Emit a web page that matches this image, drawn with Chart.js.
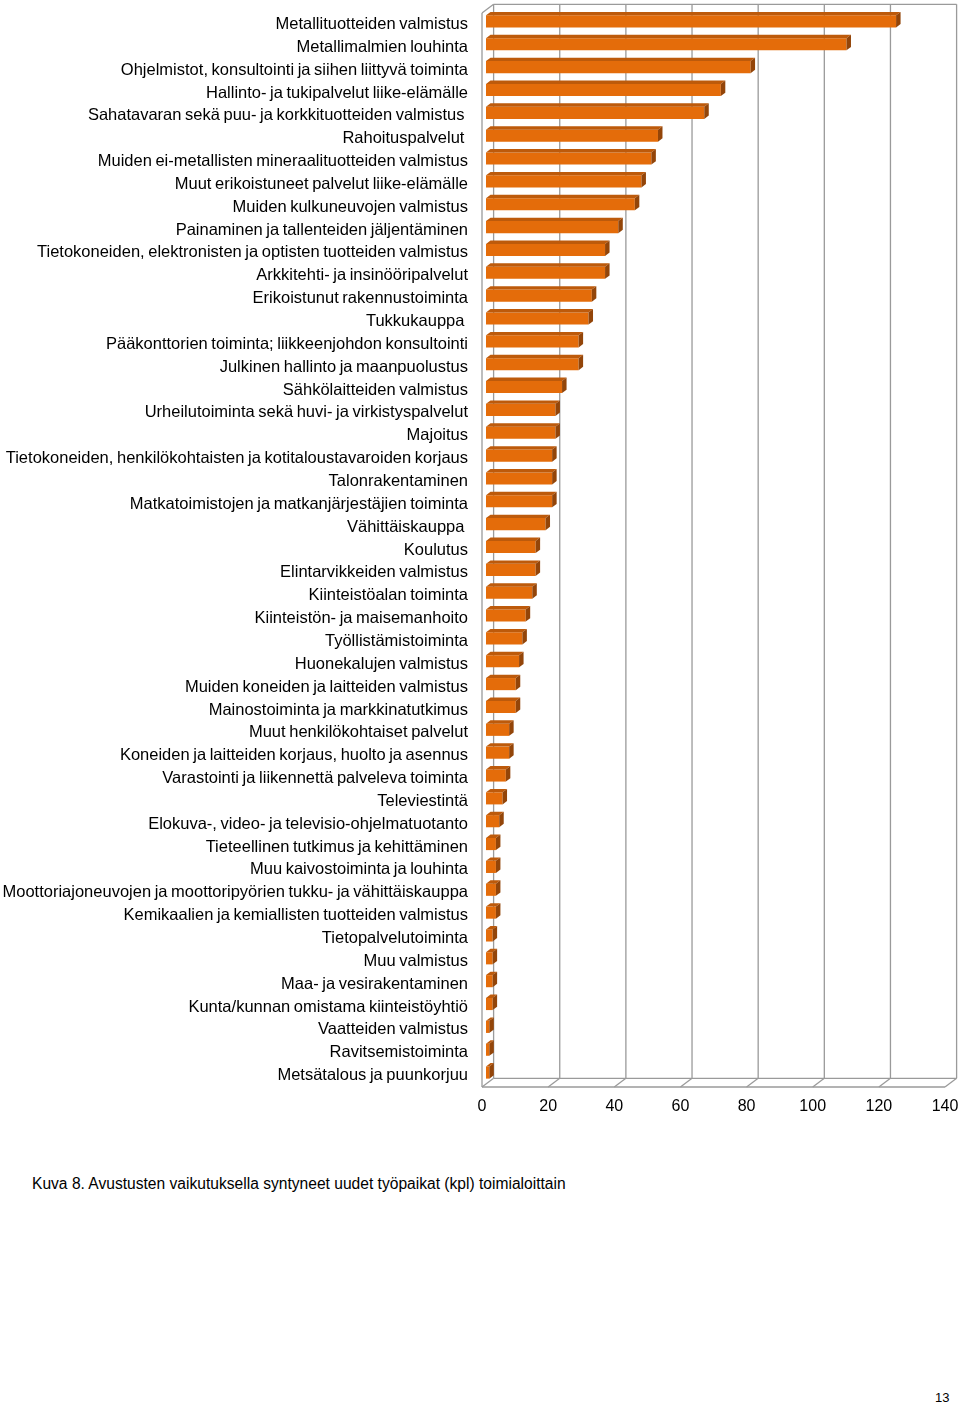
<!DOCTYPE html>
<html><head><meta charset="utf-8">
<script src="https://cdn.jsdelivr.net/npm/chart.js@4"></script>
<style>
html,body{margin:0;padding:0;background:#fff;}
body{width:960px;height:1403px;position:relative;overflow:hidden;font-family:"Liberation Sans",Arial,sans-serif;}
#wrap{position:absolute;left:0;top:0;width:960px;height:1130px;}
#cap{position:absolute;left:32px;top:1175px;font-size:15.6px;color:#000;white-space:nowrap;}
#pg{position:absolute;left:935px;top:1390px;font-size:13px;color:#000;}
</style></head><body>
<div id="wrap"><canvas id="c" width="960" height="1130"></canvas></div>
<div id="cap">Kuva 8. Avustusten vaikutuksella syntyneet uudet työpaikat (kpl) toimialoittain</div>
<div id="pg">13</div>
<script>
const categories = [
  "Metallituotteiden valmistus",
  "Metallimalmien louhinta",
  "Ohjelmistot, konsultointi ja siihen liittyvä toiminta",
  "Hallinto- ja tukipalvelut liike-elämälle",
  "Sahatavaran sekä puu- ja korkkituotteiden valmistus ",
  "Rahoituspalvelut ",
  "Muiden ei-metallisten mineraalituotteiden valmistus",
  "Muut erikoistuneet palvelut liike-elämälle",
  "Muiden kulkuneuvojen valmistus",
  "Painaminen ja tallenteiden jäljentäminen",
  "Tietokoneiden, elektronisten ja optisten tuotteiden valmistus",
  "Arkkitehti- ja insinööripalvelut",
  "Erikoistunut rakennustoiminta",
  "Tukkukauppa ",
  "Pääkonttorien toiminta; liikkeenjohdon konsultointi",
  "Julkinen hallinto ja maanpuolustus",
  "Sähkölaitteiden valmistus",
  "Urheilutoiminta sekä huvi- ja virkistyspalvelut",
  "Majoitus",
  "Tietokoneiden, henkilökohtaisten ja kotitaloustavaroiden korjaus",
  "Talonrakentaminen",
  "Matkatoimistojen ja matkanjärjestäjien toiminta",
  "Vähittäiskauppa ",
  "Koulutus",
  "Elintarvikkeiden valmistus",
  "Kiinteistöalan toiminta",
  "Kiinteistön- ja maisemanhoito",
  "Työllistämistoiminta",
  "Huonekalujen valmistus",
  "Muiden koneiden ja laitteiden valmistus",
  "Mainostoiminta ja markkinatutkimus",
  "Muut henkilökohtaiset palvelut",
  "Koneiden ja laitteiden korjaus, huolto ja asennus",
  "Varastointi ja liikennettä palveleva toiminta",
  "Televiestintä",
  "Elokuva-, video- ja televisio-ohjelmatuotanto",
  "Tieteellinen tutkimus ja kehittäminen",
  "Muu kaivostoiminta ja louhinta",
  "Moottoriajoneuvojen ja moottoripyörien tukku- ja vähittäiskauppa",
  "Kemikaalien ja kemiallisten tuotteiden valmistus",
  "Tietopalvelutoiminta",
  "Muu valmistus",
  "Maa- ja vesirakentaminen",
  "Kunta/kunnan omistama kiinteistöyhtiö",
  "Vaatteiden valmistus",
  "Ravitsemistoiminta",
  "Metsätalous ja puunkorjuu"
];
const newJobs = [
  124, 109, 80, 71, 66, 52, 50, 47, 45, 40,
  36, 36, 32, 31, 28, 28, 23, 21, 21, 20,
  20, 20, 18, 15, 15, 14, 12, 11, 10, 9,
  9, 7, 7, 6, 5, 4, 3, 3, 3, 3,
  2, 2, 2, 2, 1, 1, 1
];
const xTicks = [0, 20, 40, 60, 80, 100, 120, 140];

const FONT = '"Liberation Sans", Arial, sans-serif';
const FRONT_COLOR = '#E46C0A';
const TOP_COLOR = '#BD5A0B';
const SIDE_COLOR = '#934509';
const GRID_COLOR = '#9a9a9a';
const BACK = {dx: 11.6, dy: -8.7};
const BAR_SHIFT = {dx: 4, dy: -3};
const BAR_DEPTH = {dx: 4.5, dy: -3.4};

function line(ctx, x1, y1, x2, y2) {
  ctx.beginPath(); ctx.moveTo(x1, y1); ctx.lineTo(x2, y2); ctx.stroke();
}
function poly(ctx, pts) {
  ctx.beginPath(); ctx.moveTo(pts[0][0], pts[0][1]);
  for (let i = 1; i < pts.length; i++) ctx.lineTo(pts[i][0], pts[i][1]);
  ctx.closePath(); ctx.fill();
}

const box3d = {
  id: 'box3d',
  beforeDraw(chart) {
    if ('wordSpacing' in chart.ctx) chart.ctx.wordSpacing = '-1px';
  },
  beforeDatasetsDraw(chart) {
    const {ctx, chartArea: a, scales: {x}} = chart;
    ctx.save();
    ctx.strokeStyle = GRID_COLOR;
    ctx.lineWidth = 1.3;
    const bt = a.top + BACK.dy, bb = a.bottom + BACK.dy;
    const x0 = x.getPixelForValue(xTicks[0]);
    const xN = x.getPixelForValue(xTicks[xTicks.length - 1]);
    xTicks.forEach(v => {
      const px = x.getPixelForValue(v);
      line(ctx, px + BACK.dx, bt, px + BACK.dx, bb);
      line(ctx, px + BACK.dx, bb, px, a.bottom);
    });
    line(ctx, x0 + BACK.dx, bt, xN + BACK.dx, bt);
    line(ctx, x0 + BACK.dx, bb, xN + BACK.dx, bb);
    line(ctx, x0, a.bottom, xN, a.bottom);
    line(ctx, x0, a.top, x0, a.bottom);
    line(ctx, x0, a.top, x0 + BACK.dx, bt);
    ctx.restore();
    ctx.save();
    ctx.translate(BAR_SHIFT.dx, BAR_SHIFT.dy);
  },
  afterDatasetsDraw(chart) {
    const ctx = chart.ctx;
    const meta = chart.getDatasetMeta(0);
    meta.data.forEach(el => {
      const p = el.getProps(['x', 'y', 'base', 'height'], true);
      const t = p.y - p.height / 2, b = p.y + p.height / 2;
      const d = BAR_DEPTH;
      ctx.fillStyle = TOP_COLOR;
      poly(ctx, [[p.base, t], [p.x, t], [p.x + d.dx, t + d.dy], [p.base + d.dx, t + d.dy]]);
      ctx.fillStyle = SIDE_COLOR;
      poly(ctx, [[p.x, t], [p.x + d.dx, t + d.dy], [p.x + d.dx, b + d.dy], [p.x, b]]);
    });
    ctx.restore();
  }
};

new Chart(document.getElementById('c'), {
  type: 'bar',
  data: {
    labels: categories,
    datasets: [{
      data: newJobs,
      backgroundColor: FRONT_COLOR,
      borderWidth: 0,
      barPercentage: 0.53,
      categoryPercentage: 1,
      clip: false
    }]
  },
  options: {
    indexAxis: 'y',
    responsive: false,
    animation: false,
    devicePixelRatio: 1,
    layout: {padding: {top: 13, right: 15, left: 0, bottom: 0}},
    plugins: {legend: {display: false}, tooltip: {enabled: false}},
    scales: {
      x: {
        min: 0, max: 140,
        afterBuildTicks(s) { s.ticks = xTicks.map(v => ({value: v})); },
        grid: {display: false, drawTicks: false},
        border: {display: false},
        ticks: {font: {family: FONT, size: 16}, color: '#000', padding: 10, maxRotation: 0},
        afterFit(s) { s.height = 43; s.paddingLeft = 0; s.paddingRight = 0; }
      },
      y: {
        grid: {display: false, drawTicks: false},
        border: {display: false},
        ticks: {font: {family: FONT, size: 16.5}, color: '#000', padding: 14, autoSkip: false},
        afterFit(s) { s.width = 482; s.paddingTop = 0; s.paddingBottom = 0; }
      }
    }
  },
  plugins: [box3d]
});
</script>
</body></html>
